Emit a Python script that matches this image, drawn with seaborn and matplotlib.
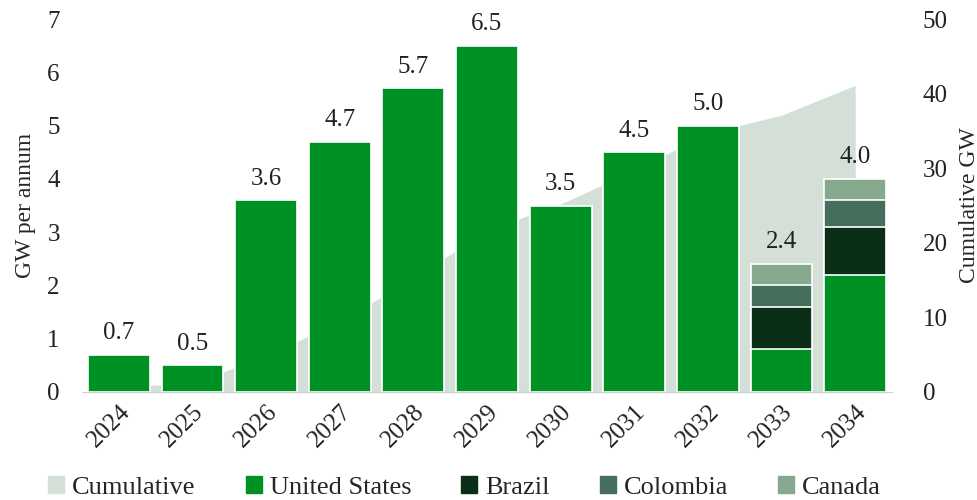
import numpy as np
import pandas as pd
import seaborn as sns
import matplotlib.pyplot as plt
from matplotlib.patches import Patch

# data
years = ["2024", "2025", "2026", "2027", "2028", "2029", "2030", "2031", "2032", "2033", "2034"]
us = [0.7, 0.5, 3.6, 4.7, 5.7, 6.5, 3.5, 4.5, 5.0, 0.8, 2.2]
brazil = [0, 0, 0, 0, 0, 0, 0, 0, 0, 0.8, 0.9]
colombia = [0, 0, 0, 0, 0, 0, 0, 0, 0, 0.4, 0.5]
canada = [0, 0, 0, 0, 0, 0, 0, 0, 0, 0.4, 0.4]

c_cum = "#d3dfd7"
c_us = "#009124"
c_br = "#0b2e16"
c_co = "#456e5c"
c_ca = "#86a88c"

df = pd.DataFrame({"year": years, "us": us, "brazil": brazil,
                   "colombia": colombia, "canada": canada})
df["t_br"] = df.us + df.brazil
df["t_co"] = df.t_br + df.colombia
df["t_ca"] = df.t_co + df.canada
df["cum"] = df.t_ca.cumsum()

sns.set_style("white")
plt.rcParams["font.family"] = ["Liberation Serif", "DejaVu Serif"]

fig = plt.figure(figsize=(9.78, 5.0), dpi=100)
ax = fig.add_axes([82/978, 108/500, 810/978, 373/500])
ax2 = ax.twinx()

# cumulative area behind bars
x = np.arange(len(years))
ax2.fill_between(x, 0, df.cum, color=c_cum, linewidth=0)
ax2.set_ylim(0, 50)
ax2.set_yticks([0, 10, 20, 30, 40, 50])
ax2.set_ylabel("Cumulative GW", fontsize=17, labelpad=8)

ax.set_zorder(ax2.get_zorder() + 1)
ax.patch.set_visible(False)

# stacked bars: draw totals first, then overlay lower parts
for col, c in [("t_ca", c_ca), ("t_co", c_co), ("t_br", c_br), ("us", c_us)]:
    sns.barplot(data=df, x="year", y=col, color=c, width=0.84,
                edgecolor="white", linewidth=1.2, saturation=1, ax=ax)

for i, v in enumerate(df.t_ca):
    ax.text(i, v + 0.2, f"{v:.1f}", ha="center", va="bottom", fontsize=18, color="#222222")

ax.set_xlim(-0.5, 10.5)
ax.set_ylim(0, 7)
ax.set_yticks(range(0, 8))
ax.set_xlabel("")
ax.set_ylabel("GW per annum", fontsize=17, labelpad=8)
plt.setp(ax.get_xticklabels(), rotation=45, ha="right", rotation_mode="anchor")

for a in (ax, ax2):
    a.tick_params(axis="both", length=0, labelsize=18, colors="#222222")
    for s in a.spines.values():
        s.set_visible(False)
ax.tick_params(axis="y", pad=16)
ax2.tick_params(axis="y", pad=22)
ax.tick_params(axis="x", pad=6)
ax.spines["bottom"].set_visible(True)
ax.spines["bottom"].set_color("#d0d0d0")

handles = [Patch(color=c_cum, label="Cumulative"),
           Patch(color=c_us, label="United States"),
           Patch(color=c_br, label="Brazil"),
           Patch(color=c_co, label="Colombia"),
           Patch(color=c_ca, label="Canada")]
fig.legend(handles=handles, loc="lower center", bbox_to_anchor=(0.475, -0.045),
           ncol=5, frameon=False, fontsize=19, handlelength=0.6, handleheight=0.6,
           handletextpad=0.3, columnspacing=1.9)

fig.savefig("out.png", dpi=100)
